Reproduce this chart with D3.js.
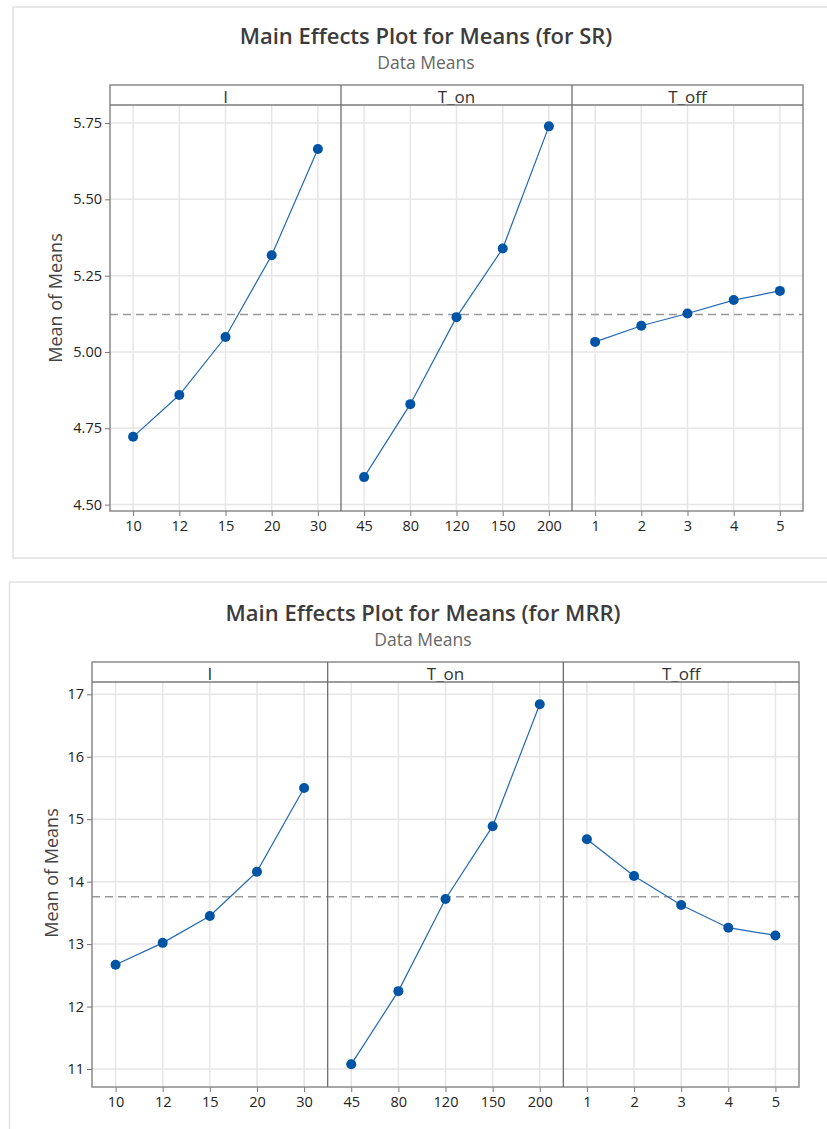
<!DOCTYPE html>
<html>
<head>
<meta charset="utf-8">
<script src="https://cdn.jsdelivr.net/npm/d3@7"></script>
<style>
  body { margin: 0; background: #fff; }
  svg { display: block; font-family: "Open Sans", "Noto Sans", sans-serif; }
</style>
</head>
<body>
<svg id="chart" width="827" height="1129"></svg>
<script>
// factors and their levels
const factors = ["I", "T_on", "T_off"];
const levelsI = ["10", "12", "15", "20", "30"];
const levelsTon = ["45", "80", "120", "150", "200"];
const levelsToff = ["1", "2", "3", "4", "5"];

// means for SR
const srI = [4.722, 4.859, 5.049, 5.317, 5.665];
const srTon = [4.590, 4.829, 5.114, 5.339, 5.739];
const srToff = [5.033, 5.086, 5.126, 5.170, 5.200];
const srTicks = [4.50, 4.75, 5.00, 5.25, 5.50, 5.75];

// means for MRR
const mrrI = [12.67, 13.02, 13.45, 14.16, 15.50];
const mrrTon = [11.075, 12.247, 13.723, 14.888, 16.84];
const mrrToff = [14.68, 14.09, 13.627, 13.263, 13.139];
const mrrTicks = [11, 12, 13, 14, 15, 16, 17];

const blue = '#0054a6';
const svg = d3.select('#chart');

function drawMainEffects(cfg) {
  const g = svg.append('g');

  // outer light frame
  g.append('rect')
    .attr('x', cfg.frame[0]).attr('y', cfg.frame[1])
    .attr('width', 900).attr('height', cfg.frame[2])
    .attr('fill', 'none').attr('stroke', '#e1e1e1').attr('stroke-width', 1.5);

  g.append('text')
    .attr('x', cfg.titleX).attr('y', cfg.titleY)
    .attr('text-anchor', 'middle')
    .style('font-size', '22px').style('font-weight', 600).style('fill', '#3c3c3c')
    .text(cfg.title);

  g.append('text')
    .attr('x', cfg.titleX).attr('y', cfg.titleY + 25)
    .attr('text-anchor', 'middle')
    .style('font-size', '17.5px').style('fill', '#666')
    .text('Data Means');

  const y = d3.scaleLinear().domain(cfg.yDomain).range([cfg.bottom, cfg.top]);

  const panels = d3.scaleBand()
    .domain(factors)
    .range([cfg.left, cfg.right]);

  // horizontal gridlines
  g.selectAll('line.hgrid')
    .data(cfg.yTicks)
    .enter()
    .append('line')
    .attr('x1', cfg.left).attr('x2', cfg.right)
    .attr('y1', d => y(d)).attr('y2', d => y(d))
    .attr('stroke', '#e6e6e6').attr('stroke-width', 1.5);

  cfg.series.forEach((s, i) => {
    const x0 = panels(factors[i]);
    const x = d3.scalePoint()
      .domain(s.levels)
      .range([x0, x0 + panels.bandwidth()])
      .padding(0.5);

    // vertical gridlines
    g.selectAll('line.vgrid' + i)
      .data(s.levels)
      .enter()
      .append('line')
      .attr('x1', d => x(d)).attr('x2', d => x(d))
      .attr('y1', cfg.top).attr('y2', cfg.bottom)
      .attr('stroke', '#e6e6e6').attr('stroke-width', 1.5);

    const xAxis = g.append('g')
      .attr('transform', `translate(0,${cfg.bottom})`)
      .call(d3.axisBottom(x).tickSize(5).tickPadding(5));
    xAxis.select('.domain').remove();
    xAxis.selectAll('line').attr('stroke', '#777');
    xAxis.selectAll('text')
      .style('font-size', '14.5px').style('fill', '#222')
      .style('font-family', '"Open Sans", sans-serif');

    // header label
    g.append('text')
      .attr('x', x0 + panels.bandwidth() / 2)
      .attr('y', cfg.top - 2)
      .attr('text-anchor', 'middle')
      .style('font-size', '17px').style('fill', '#333')
      .text(factors[i]);
  });

  // grand mean reference line
  const allVals = cfg.series.flatMap(s => s.values);
  const grand = d3.mean(allVals);
  g.append('line')
    .attr('x1', cfg.left).attr('x2', cfg.right)
    .attr('y1', y(grand)).attr('y2', y(grand))
    .attr('stroke', '#999').attr('stroke-width', 1.5)
    .attr('stroke-dasharray', '8,5');

  // frame, header strip and dividers
  g.append('rect')
    .attr('x', cfg.left).attr('y', cfg.header)
    .attr('width', cfg.right - cfg.left).attr('height', cfg.bottom - cfg.header)
    .attr('fill', 'none').attr('stroke', '#8a8a8a').attr('stroke-width', 1.5);
  g.append('line')
    .attr('x1', cfg.left).attr('x2', cfg.right)
    .attr('y1', cfg.top).attr('y2', cfg.top)
    .attr('stroke', '#7a7a7a').attr('stroke-width', 1.5);
  g.selectAll('line.divider')
    .data(factors.slice(1))
    .enter()
    .append('line')
    .attr('x1', d => panels(d)).attr('x2', d => panels(d))
    .attr('y1', cfg.header).attr('y2', cfg.bottom)
    .attr('stroke', '#6e6e6e').attr('stroke-width', 1.3);

  const yAxis = g.append('g')
    .attr('transform', `translate(${cfg.left},0)`)
    .call(d3.axisLeft(y).tickValues(cfg.yTicks).tickSize(5).tickPadding(3).tickFormat(cfg.yFormat));
  yAxis.select('.domain').remove();
  yAxis.selectAll('line').attr('stroke', '#777');
  yAxis.selectAll('text')
    .style('font-size', '14.5px').style('fill', '#222')
    .style('font-family', '"Open Sans", sans-serif');

  g.append('text')
    .attr('transform', `translate(${cfg.yLabelX},${cfg.yLabelY}) rotate(-90)`)
    .attr('text-anchor', 'middle')
    .style('font-size', '18px').style('fill', '#444')
    .text('Mean of Means');

  // lines and markers
  cfg.series.forEach((s, i) => {
    const x0 = panels(factors[i]);
    const x = d3.scalePoint()
      .domain(s.levels)
      .range([x0, x0 + panels.bandwidth()])
      .padding(0.5);
    const pts = s.levels.map((l, j) => ({ lvl: l, v: s.values[j] }));

    g.append('path')
      .datum(pts)
      .attr('fill', 'none')
      .attr('stroke', '#2468b4')
      .attr('stroke-width', 1.2)
      .attr('d', d3.line().x(d => x(d.lvl)).y(d => y(d.v)));

    g.selectAll('circle.pt' + i)
      .data(pts)
      .enter()
      .append('circle')
      .attr('cx', d => x(d.lvl))
      .attr('cy', d => y(d.v))
      .attr('r', 5)
      .attr('fill', blue);
  });
}

drawMainEffects({
  frame: [13, 7, 551],
  title: 'Main Effects Plot for Means (for SR)',
  titleX: 426, titleY: 44,
  left: 110, right: 803, header: 85, top: 105, bottom: 511,
  yDomain: [4.479, 5.809],
  yTicks: srTicks,
  yFormat: d3.format('.2f'),
  yLabelX: 62, yLabelY: 298,
  series: [
    { levels: levelsI, values: srI },
    { levels: levelsTon, values: srTon },
    { levels: levelsToff, values: srToff }
  ]
});

drawMainEffects({
  frame: [9.5, 582, 600],
  title: 'Main Effects Plot for Means (for MRR)',
  titleX: 423, titleY: 621,
  left: 92, right: 799, header: 662, top: 682, bottom: 1087,
  yDomain: [10.712, 17.197],
  yTicks: mrrTicks,
  yFormat: d3.format('d'),
  yLabelX: 58, yLabelY: 873,
  series: [
    { levels: levelsI, values: mrrI },
    { levels: levelsTon, values: mrrTon },
    { levels: levelsToff, values: mrrToff }
  ]
});
</script>
</body>
</html>
